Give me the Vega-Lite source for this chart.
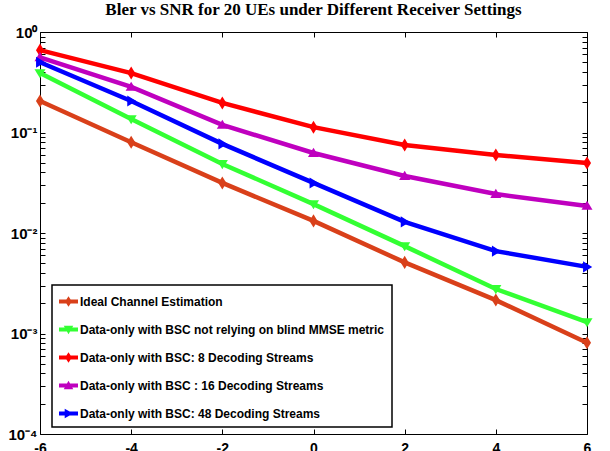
{
  "$schema": "https://vega.github.io/schema/vega-lite/v6.json",
  "width": 547,
  "height": 402,
  "autosize": {"type": "none"},
  "padding": {"left": 40, "top": 32, "right": 23, "bottom": 17},
  "background": "white",
  "title": {
    "text": "Bler vs SNR for 20 UEs under Different Receiver Settings",
    "font": "Liberation Serif",
    "fontSize": 17,
    "fontWeight": "bold",
    "color": "black",
    "anchor": "middle",
    "offset": 6
  },
  "data": {
    "values": [
      {"snr": -6, "bler": 0.206, "series": "Ideal Channel Estimation"},
      {"snr": -4, "bler": 0.080, "series": "Ideal Channel Estimation"},
      {"snr": -2, "bler": 0.0315, "series": "Ideal Channel Estimation"},
      {"snr": 0, "bler": 0.0132, "series": "Ideal Channel Estimation"},
      {"snr": 2, "bler": 0.0051, "series": "Ideal Channel Estimation"},
      {"snr": 4, "bler": 0.00215, "series": "Ideal Channel Estimation"},
      {"snr": 6, "bler": 0.00081, "series": "Ideal Channel Estimation"},
      {"snr": -6, "bler": 0.39, "series": "Data-only with BSC not relying on blind MMSE metric"},
      {"snr": -4, "bler": 0.136, "series": "Data-only with BSC not relying on blind MMSE metric"},
      {"snr": -2, "bler": 0.0486, "series": "Data-only with BSC not relying on blind MMSE metric"},
      {"snr": 0, "bler": 0.0194, "series": "Data-only with BSC not relying on blind MMSE metric"},
      {"snr": 2, "bler": 0.0074, "series": "Data-only with BSC not relying on blind MMSE metric"},
      {"snr": 4, "bler": 0.00277, "series": "Data-only with BSC not relying on blind MMSE metric"},
      {"snr": 6, "bler": 0.0013, "series": "Data-only with BSC not relying on blind MMSE metric"},
      {"snr": -6, "bler": 0.66, "series": "Data-only with BSC: 8 Decoding Streams"},
      {"snr": -4, "bler": 0.39, "series": "Data-only with BSC: 8 Decoding Streams"},
      {"snr": -2, "bler": 0.197, "series": "Data-only with BSC: 8 Decoding Streams"},
      {"snr": 0, "bler": 0.113, "series": "Data-only with BSC: 8 Decoding Streams"},
      {"snr": 2, "bler": 0.075, "series": "Data-only with BSC: 8 Decoding Streams"},
      {"snr": 4, "bler": 0.0597, "series": "Data-only with BSC: 8 Decoding Streams"},
      {"snr": 6, "bler": 0.0497, "series": "Data-only with BSC: 8 Decoding Streams"},
      {"snr": -6, "bler": 0.56, "series": "Data-only with BSC : 16 Decoding Streams"},
      {"snr": -4, "bler": 0.284, "series": "Data-only with BSC : 16 Decoding Streams"},
      {"snr": -2, "bler": 0.119, "series": "Data-only with BSC : 16 Decoding Streams"},
      {"snr": 0, "bler": 0.0625, "series": "Data-only with BSC : 16 Decoding Streams"},
      {"snr": 2, "bler": 0.0369, "series": "Data-only with BSC : 16 Decoding Streams"},
      {"snr": 4, "bler": 0.0244, "series": "Data-only with BSC : 16 Decoding Streams"},
      {"snr": 6, "bler": 0.0186, "series": "Data-only with BSC : 16 Decoding Streams"},
      {"snr": -6, "bler": 0.50, "series": "Data-only with BSC: 48 Decoding Streams"},
      {"snr": -4, "bler": 0.206, "series": "Data-only with BSC: 48 Decoding Streams"},
      {"snr": -2, "bler": 0.077, "series": "Data-only with BSC: 48 Decoding Streams"},
      {"snr": 0, "bler": 0.0315, "series": "Data-only with BSC: 48 Decoding Streams"},
      {"snr": 2, "bler": 0.0129, "series": "Data-only with BSC: 48 Decoding Streams"},
      {"snr": 4, "bler": 0.0066, "series": "Data-only with BSC: 48 Decoding Streams"},
      {"snr": 6, "bler": 0.0046, "series": "Data-only with BSC: 48 Decoding Streams"}
    ]
  },
  "layer": [
    {
      "mark": {"type": "line", "strokeWidth": 4.5, "clip": false},
      "encoding": {
        "x": {"field": "snr", "type": "quantitative", "scale": {"domain": [-6, 6], "nice": false, "zero": false},
          "axis": {"orient": "bottom", "title": null, "grid": false, "values": [-6, -4, -2, 0, 2, 4, 6],
            "labelExpr": "(datum.value < 0 ? '-' : '') + abs(datum.value)",
            "tickSize": -5, "labelPadding": 12, "labelFont": "Liberation Sans", "labelFontSize": 14, "labelFontWeight": "bold", "labelColor": "black",
            "domainColor": "black", "tickColor": "black", "domainWidth": 1, "labelFlush": false}},
        "y": {"field": "bler", "type": "quantitative", "scale": {"type": "log", "domain": [0.0001, 1], "nice": false},
          "axis": {"orient": "left", "title": null, "grid": false,
            "values": [0.0001, 0.0002, 0.0003, 0.0004, 0.0005, 0.0006, 0.0007, 0.0008, 0.0009, 0.001, 0.002, 0.003, 0.004, 0.005, 0.006, 0.007, 0.008, 0.009, 0.01, 0.02, 0.03, 0.04, 0.05, 0.06, 0.07, 0.08, 0.09, 0.1, 0.2, 0.3, 0.4, 0.5, 0.6, 0.7, 0.8, 0.9, 1],
            "labelExpr": "datum.value == 1 ? '10⁰' : datum.value == 0.1 ? '10⁻¹' : datum.value == 0.01 ? '10⁻²' : datum.value == 0.001 ? '10⁻³' : datum.value == 0.0001 ? '10⁻⁴' : ''",
            "tickSize": -5, "labelPadding": 8, "labelFont": "Liberation Sans", "labelFontSize": 15, "labelFontWeight": "bold", "labelColor": "black",
            "domainColor": "black", "tickColor": "black", "domainWidth": 1, "labelFlush": false, "labelOverlap": false}},
        "color": {"field": "series", "type": "nominal",
          "scale": {"domain": ["Ideal Channel Estimation", "Data-only with BSC not relying on blind MMSE metric", "Data-only with BSC: 8 Decoding Streams", "Data-only with BSC : 16 Decoding Streams", "Data-only with BSC: 48 Decoding Streams"],
            "range": ["#D9401A", "#33FF33", "#FF0000", "#BF00BF", "#0000FF"]},
          "legend": null}
      }
    },
    {
      "mark": {"type": "point", "filled": true, "opacity": 1, "size": 170, "clip": false},
      "encoding": {
        "x": {"field": "snr", "type": "quantitative",
          "axis": {"orient": "top", "title": null, "grid": false, "values": [-6, -4, -2, 0, 2, 4, 6], "labels": false,
            "tickSize": -5, "domainColor": "black", "tickColor": "black", "domainWidth": 1}},
        "y": {"field": "bler", "type": "quantitative",
          "axis": {"orient": "right", "title": null, "grid": false, "labels": false,
            "values": [0.0001, 0.0002, 0.0003, 0.0004, 0.0005, 0.0006, 0.0007, 0.0008, 0.0009, 0.001, 0.002, 0.003, 0.004, 0.005, 0.006, 0.007, 0.008, 0.009, 0.01, 0.02, 0.03, 0.04, 0.05, 0.06, 0.07, 0.08, 0.09, 0.1, 0.2, 0.3, 0.4, 0.5, 0.6, 0.7, 0.8, 0.9, 1],
            "tickSize": -5, "domainColor": "black", "tickColor": "black", "domainWidth": 1}},
        "color": {"field": "series", "type": "nominal",
          "scale": {"domain": ["Ideal Channel Estimation", "Data-only with BSC not relying on blind MMSE metric", "Data-only with BSC: 8 Decoding Streams", "Data-only with BSC : 16 Decoding Streams", "Data-only with BSC: 48 Decoding Streams"],
            "range": ["#D9401A", "#33FF33", "#FF0000", "#BF00BF", "#0000FF"]},
          "legend": null},
        "shape": {"field": "series", "type": "nominal",
          "scale": {"domain": ["Ideal Channel Estimation", "Data-only with BSC not relying on blind MMSE metric", "Data-only with BSC: 8 Decoding Streams", "Data-only with BSC : 16 Decoding Streams", "Data-only with BSC: 48 Decoding Streams"],
            "range": ["M0,-1L0.62,0L0,1L-0.62,0Z", "M-0.85,-0.6L0.85,-0.6L0,0.8Z", "M0,-1L0.62,0L0,1L-0.62,0Z", "M-0.85,0.6L0.85,0.6L0,-0.8Z", "M-0.6,-0.85L-0.6,0.85L0.8,0Z"]},
          "legend": null}
      }
    },
    {
      "mark": {"type": "point", "filled": true, "opacity": 0, "size": 361, "clip": false},
      "encoding": {
        "x": {"field": "snr", "type": "quantitative", "axis": null},
        "y": {"field": "bler", "type": "quantitative", "axis": null},
        "color": {"field": "series", "type": "nominal",
          "scale": {"domain": ["Ideal Channel Estimation", "Data-only with BSC not relying on blind MMSE metric", "Data-only with BSC: 8 Decoding Streams", "Data-only with BSC : 16 Decoding Streams", "Data-only with BSC: 48 Decoding Streams"],
            "range": ["#D9401A", "#33FF33", "#FF0000", "#BF00BF", "#0000FF"]},
          "legend": {"orient": "none", "legendX": 12, "legendY": 253, "title": null, "padding": 7, "rowPadding": 12,
            "strokeColor": "black", "fillColor": "white", "labelFont": "Liberation Sans", "labelFontSize": 12, "labelFontWeight": "bold",
            "labelColor": "black", "labelLimit": 500, "labelOffset": 2, "symbolOpacity": 1, "symbolStrokeWidth": 0, "symbolSize": 361}},
        "shape": {"field": "series", "type": "nominal",
          "scale": {"domain": ["Ideal Channel Estimation", "Data-only with BSC not relying on blind MMSE metric", "Data-only with BSC: 8 Decoding Streams", "Data-only with BSC : 16 Decoding Streams", "Data-only with BSC: 48 Decoding Streams"],
            "range": ["M-1,-0.2H1V0.2H-1Z M0,-0.55L0.36,0L0,0.55L-0.36,0Z", "M-1,-0.2H1V0.2H-1Z M-0.5,-0.4L0.5,-0.4L0,0.5Z", "M-1,-0.2H1V0.2H-1Z M0,-0.55L0.36,0L0,0.55L-0.36,0Z", "M-1,-0.2H1V0.2H-1Z M0.5,0.4L-0.5,0.4L0,-0.5Z", "M-1,-0.2H1V0.2H-1Z M-0.4,0.5L-0.4,-0.5L0.5,0Z"]},
          "legend": {"orient": "none", "legendX": 12, "legendY": 253, "title": null, "padding": 7, "rowPadding": 12,
            "strokeColor": "black", "fillColor": "white", "labelFont": "Liberation Sans", "labelFontSize": 12, "labelFontWeight": "bold",
            "labelColor": "black", "labelLimit": 500, "labelOffset": 2, "symbolOpacity": 1, "symbolStrokeWidth": 0, "symbolSize": 361}}
      }
    }
  ],
  "resolve": {
    "scale": {"color": "independent", "shape": "independent"},
    "axis": {"x": "independent", "y": "independent"}
  },
  "config": {"view": {"stroke": null}, "legend": {"strokeWidth": 1.5}}
}
